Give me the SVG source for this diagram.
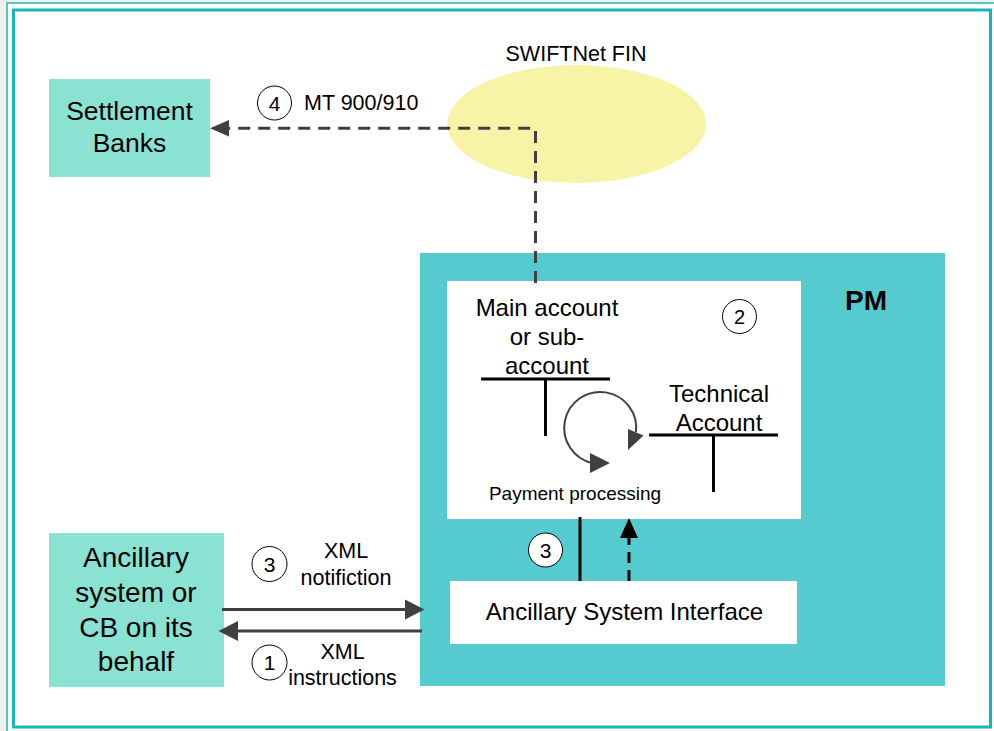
<svg xmlns="http://www.w3.org/2000/svg" width="994" height="731" viewBox="0 0 994 731">
<style>
text{font-family:"Liberation Sans",Arial,sans-serif;fill:#000}
.c{text-anchor:middle}
.num{fill:#fff;stroke:#000;stroke-width:1}
.tl{stroke:#000;stroke-width:3;fill:none}
.gl{stroke:#404040;stroke-width:3;fill:none}
</style>
<rect x="0" y="0" width="994" height="731" fill="#f0f0ec"/>
<rect x="7" y="3" width="995" height="735" fill="#fff" stroke="#5cc4c0" stroke-width="2"/>
<rect x="13.5" y="10" width="977" height="717" fill="#fff" stroke="#17b8b8" stroke-width="3"/>

<g id="swiftnet">
<ellipse cx="576.5" cy="124" rx="129.5" ry="59" fill="#f7f4a8"/>
<text class="c" x="576" y="60.5" font-size="21.5">SWIFTNet FIN</text>
</g>

<g id="settlement-banks">
<rect x="49" y="79" width="161" height="98" fill="#8ae3d2"/>
<text class="c" x="129.5" y="120" font-size="26.5">Settlement</text>
<text class="c" x="129.5" y="152" font-size="26.5">Banks</text>
</g>

<g id="pm">
<rect x="420" y="253" width="525" height="433" fill="#55cbd0"/>
<text class="c" x="866" y="310" font-size="28" font-weight="bold">PM</text>
</g>

<g id="payment-processing">
<rect x="447" y="281" width="354" height="238" fill="#fff"/>
<text class="c" x="547" y="315.5" font-size="24">Main account</text>
<text class="c" x="547" y="345" font-size="24">or sub-</text>
<text class="c" x="547" y="374" font-size="24">account</text>
<line class="tl" x1="481" y1="379" x2="610" y2="379"/>
<line class="tl" x1="545.5" y1="379" x2="545.5" y2="436"/>
<text class="c" x="719" y="401.5" font-size="24">Technical</text>
<text class="c" x="719" y="431" font-size="24">Account</text>
<line class="tl" x1="649" y1="435" x2="778" y2="435"/>
<line class="tl" x1="713.5" y1="435" x2="713.5" y2="492"/>
<circle class="num" cx="739.5" cy="316.5" r="17"/>
<text class="c" x="739.5" y="324" font-size="20">2</text>
<path d="M636 432 A36 36 0 1 0 592 463" stroke="#404040" stroke-width="2" fill="none"/>
<path d="M628 429 L643.5 435.5 L628 450 z" fill="#404040"/>
<path d="M590 453 L610 463 L590 473 z" fill="#404040"/>
<text class="c" x="575" y="500" font-size="19">Payment processing</text>
</g>

<g id="asi">
<rect x="450" y="581" width="347" height="63" fill="#fff"/>
<text class="c" x="624.5" y="619.5" font-size="24">Ancillary System Interface</text>
</g>

<g id="ancillary-system">
<rect x="49" y="533" width="175" height="154" fill="#8ae3d2"/>
<text class="c" x="136" y="566.5" font-size="28">Ancillary</text>
<text class="c" x="136" y="601.5" font-size="28">system or</text>
<text class="c" x="136" y="636.5" font-size="28">CB on its</text>
<text class="c" x="136" y="670.5" font-size="28">behalf</text>
</g>

<g id="connectors">
<path class="gl" d="M535.5 283 V128.3 H226" stroke-dasharray="12 8"/>
<path d="M229 120 L210 128.3 L229 136.6 z" fill="#404040"/>
<circle class="num" cx="274.5" cy="103" r="17"/>
<text class="c" x="274.5" y="110.5" font-size="21">4</text>
<text x="304" y="110" font-size="21.5">MT 900/910</text>

<line class="tl" x1="580" y1="517" x2="580" y2="581"/>
<line x1="629" y1="581" x2="629" y2="536" stroke="#000" stroke-width="3" stroke-dasharray="11 7"/>
<path d="M620 538 L629 518 L638 538 z" fill="#000"/>
<circle class="num" cx="545.5" cy="550" r="17"/>
<text class="c" x="545.5" y="557.5" font-size="21">3</text>

<line class="gl" x1="222" y1="609.5" x2="408" y2="609.5"/>
<path d="M405 599.5 L424.5 609.5 L405 619.5 z" fill="#404040"/>
<line class="gl" x1="422" y1="631" x2="236" y2="631"/>
<path d="M238 621 L218.5 631 L238 641 z" fill="#404040"/>
<circle class="num" cx="269.5" cy="564" r="17.5"/>
<text class="c" x="269.5" y="571.5" font-size="21">3</text>
<text class="c" x="346" y="558" font-size="21.5">XML</text>
<text class="c" x="346" y="585" font-size="21.5">notifiction</text>
<circle class="num" cx="269.5" cy="662.5" r="17.5"/>
<text class="c" x="269.5" y="670" font-size="21">1</text>
<text class="c" x="342.5" y="659" font-size="21.5">XML</text>
<text class="c" x="342.5" y="685" font-size="21.5">instructions</text>
</g>
</svg>
